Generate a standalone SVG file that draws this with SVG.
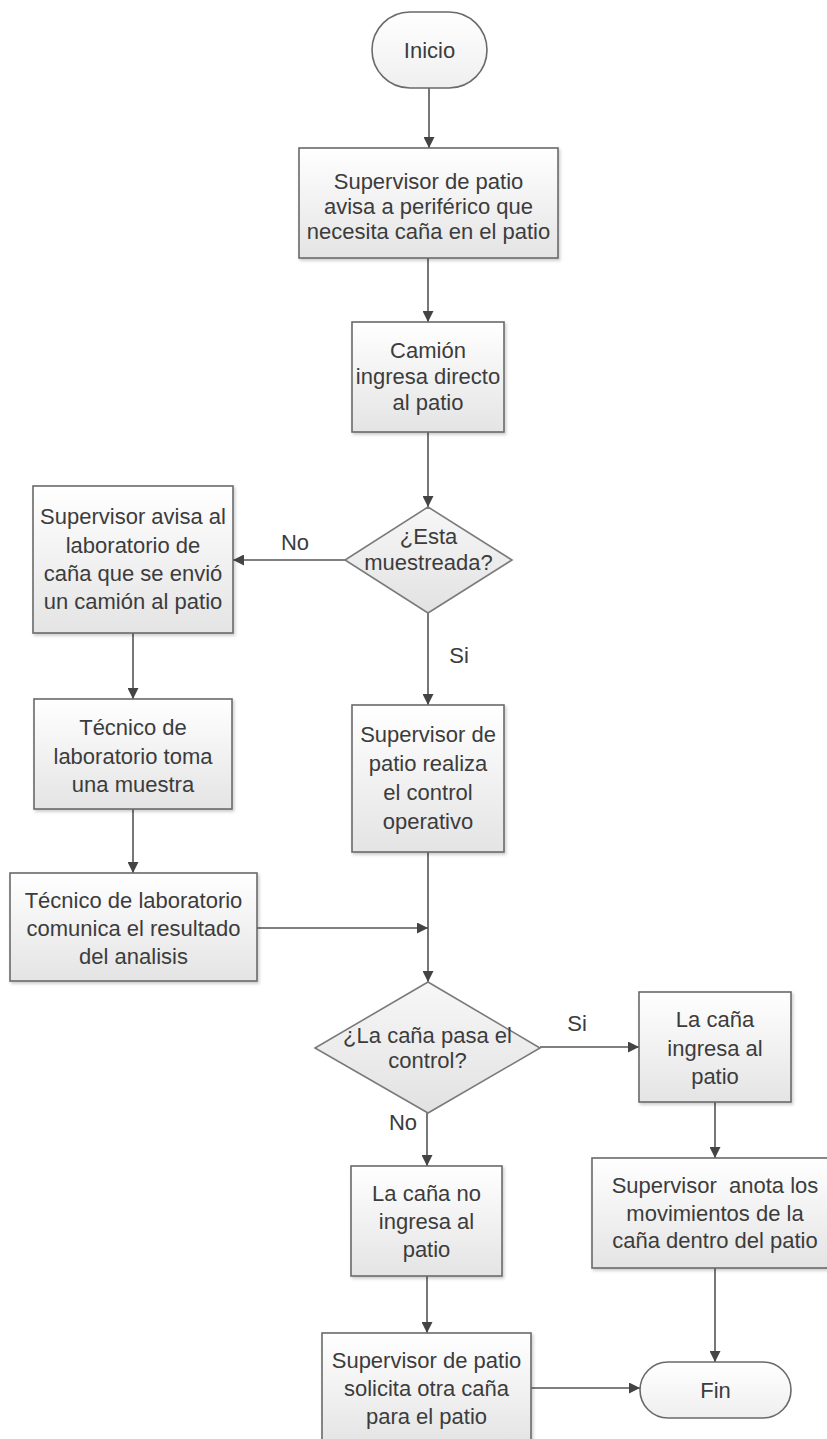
<svg xmlns="http://www.w3.org/2000/svg" width="827" height="1439" viewBox="0 0 827 1439">
<style>
.box{fill:url(#gb);stroke:#6a6a6a;stroke-width:1.6;filter:url(#sh)}
.dia{fill:url(#gd);stroke:#7a7a7a;stroke-width:1.6}
.term{fill:url(#gt);stroke:#6a6a6a;stroke-width:1.6}
.t{font-family:"Liberation Sans",Arial,sans-serif;font-size:22px;fill:#3c3c3c;text-anchor:middle}
.lbl{font-family:"Liberation Sans",Arial,sans-serif;font-size:22px;fill:#3c3c3c;text-anchor:middle}
.c{stroke:#555;stroke-width:1.6;fill:none;marker-end:url(#ah)}
</style>
<defs>
<linearGradient id="gb" x1="0" y1="0" x2="0" y2="1">
<stop offset="0" stop-color="#ffffff"/><stop offset="1" stop-color="#e4e4e4"/>
</linearGradient>
<linearGradient id="gd" x1="0" y1="0" x2="0" y2="1">
<stop offset="0" stop-color="#f7f7f7"/><stop offset="1" stop-color="#e2e2e2"/>
</linearGradient>
<linearGradient id="gt" x1="0" y1="0" x2="0" y2="1">
<stop offset="0" stop-color="#ffffff"/><stop offset="1" stop-color="#efefef"/>
</linearGradient>
<filter id="sh" x="-10%" y="-10%" width="120%" height="130%">
<feDropShadow dx="1.5" dy="2" stdDeviation="1.5" flood-color="#000" flood-opacity="0.2"/>
</filter>
<marker id="ah" viewBox="0 0 10 10" refX="10" refY="5" markerWidth="11" markerHeight="11" markerUnits="userSpaceOnUse" orient="auto">
<path d="M0,0 L10,5 L0,10 z" fill="#444"/>
</marker>
</defs>
<rect width="827" height="1439" fill="#ffffff"/>

<g id="connectors">
<line class="c" x1="429" y1="88" x2="429" y2="148"/>
<line class="c" x1="428" y1="258" x2="428" y2="322"/>
<line class="c" x1="428" y1="432" x2="428" y2="507"/>
<line class="c" x1="345" y1="560" x2="233" y2="560"/>
<line class="c" x1="428" y1="613" x2="428" y2="705"/>
<line class="c" x1="133" y1="633" x2="133" y2="699"/>
<line class="c" x1="133" y1="809" x2="133" y2="873"/>
<line class="c" x1="257" y1="928" x2="428" y2="928"/>
<line class="c" x1="428" y1="852" x2="428" y2="982"/>
<line class="c" x1="540" y1="1047" x2="639" y2="1047"/>
<line class="c" x1="427" y1="1113" x2="427" y2="1166"/>
<line class="c" x1="427" y1="1276" x2="427" y2="1333"/>
<line class="c" x1="715" y1="1102" x2="715" y2="1158"/>
<line class="c" x1="715" y1="1268" x2="715" y2="1362"/>
<line class="c" x1="531" y1="1388" x2="640" y2="1388"/>
<text class="lbl" x="295" y="550">No</text>
<text class="lbl" x="459" y="663">Si</text>
<text class="lbl" x="577" y="1031">Si</text>
<text class="lbl" x="403" y="1130">No</text>
</g>

<g id="inicio">
<rect class="term" x="372" y="12" width="115" height="76" rx="38" ry="38"/>
<text class="t" x="429.5" y="58">Inicio</text>
</g>

<g id="n1">
<rect class="box" x="299" y="148" width="259" height="110"/>
<text class="t" x="428.5" y="189">Supervisor de patio</text>
<text class="t" x="428.5" y="214">avisa a periférico que</text>
<text class="t" x="428.5" y="239">necesita caña en el patio</text>
</g>

<g id="n2">
<rect class="box" x="352" y="322" width="152" height="110"/>
<text class="t" x="428" y="358">Camión</text>
<text class="t" x="428" y="384">ingresa directo</text>
<text class="t" x="428" y="410">al patio</text>
</g>

<g id="d1">
<polygon class="dia" points="428,507 512,560 428,613 345,560"/>
<text class="t" x="428.5" y="544">¿Esta</text>
<text class="t" x="428.5" y="570">muestreada?</text>
</g>

<g id="n3">
<rect class="box" x="33" y="486" width="200" height="147"/>
<text class="t" x="133" y="524">Supervisor avisa al</text>
<text class="t" x="133" y="553">laboratorio de</text>
<text class="t" x="133" y="581">caña que se envió</text>
<text class="t" x="133" y="609">un camión al patio</text>
</g>

<g id="n4">
<rect class="box" x="34" y="699" width="198" height="110"/>
<text class="t" x="133" y="735">Técnico de</text>
<text class="t" x="133" y="764">laboratorio toma</text>
<text class="t" x="133" y="792">una muestra</text>
</g>

<g id="n5">
<rect class="box" x="10" y="873" width="247" height="108"/>
<text class="t" x="133.5" y="908">Técnico de laboratorio</text>
<text class="t" x="133.5" y="936">comunica el resultado</text>
<text class="t" x="133.5" y="964">del analisis</text>
</g>

<g id="n6">
<rect class="box" x="352" y="705" width="152" height="147"/>
<text class="t" x="428" y="742">Supervisor de</text>
<text class="t" x="428" y="771">patio realiza</text>
<text class="t" x="428" y="800">el control</text>
<text class="t" x="428" y="829">operativo</text>
</g>

<g id="d2">
<polygon class="dia" points="428,982 540,1048 428,1113 315,1048"/>
<text class="t" x="427.5" y="1043">¿La caña pasa el</text>
<text class="t" x="427.5" y="1068">control?</text>
</g>

<g id="n7">
<rect class="box" x="351" y="1166" width="151" height="110"/>
<text class="t" x="426.5" y="1201">La caña no</text>
<text class="t" x="426.5" y="1229">ingresa al</text>
<text class="t" x="426.5" y="1257">patio</text>
</g>

<g id="n8">
<rect class="box" x="322" y="1333" width="209" height="112"/>
<text class="t" x="426.5" y="1368">Supervisor de patio</text>
<text class="t" x="426.5" y="1396">solicita otra caña</text>
<text class="t" x="426.5" y="1424">para el patio</text>
</g>

<g id="n9">
<rect class="box" x="639" y="992" width="152" height="110"/>
<text class="t" x="715" y="1027">La caña</text>
<text class="t" x="715" y="1056">ingresa al</text>
<text class="t" x="715" y="1084">patio</text>
</g>

<g id="n10">
<rect class="box" x="592" y="1158" width="246" height="110"/>
<text class="t" x="715" y="1193" style="white-space:pre">Supervisor  anota los</text>
<text class="t" x="715" y="1221">movimientos de la</text>
<text class="t" x="715" y="1248">caña dentro del patio</text>
</g>

<g id="fin">
<rect class="term" x="640" y="1362" width="151" height="56" rx="28" ry="28"/>
<text class="t" x="715.5" y="1398">Fin</text>
</g>
</svg>
